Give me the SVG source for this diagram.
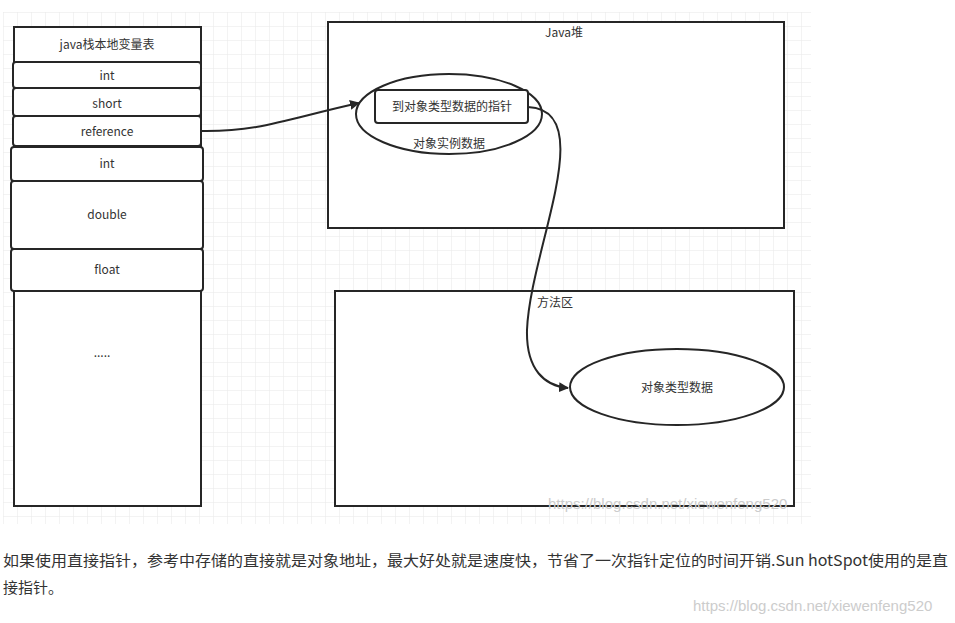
<svg xmlns="http://www.w3.org/2000/svg" width="955" height="623" viewBox="0 0 955 623">
<style>
.b{fill:#fff;stroke:#262626;stroke-width:2}
.t{font-family:"Noto Sans CJK SC","Liberation Sans",sans-serif;font-size:12px;fill:#333;text-anchor:middle}
.c{fill:none;stroke:#262626;stroke-width:2}
.p{font-family:"Noto Sans CJK SC","Liberation Sans",sans-serif;font-size:15px;fill:#333}
.w{font-family:"Liberation Sans",sans-serif;font-size:15px;fill:#ccc}
</style>
<defs>
<pattern id="g" width="14" height="14" patternUnits="userSpaceOnUse" x="3" y="12">
<path d="M0 0H14M0 0V14" stroke="#e8e8e8" stroke-width="1" fill="none"/>
</pattern>
<marker id="a" markerWidth="10" markerHeight="10" refX="9" refY="5" orient="auto" markerUnits="userSpaceOnUse">
<path d="M0,0 L10,5 L0,10 Z" fill="#262626"/>
</marker>
</defs>
<rect width="955" height="623" fill="#fff"/>
<rect x="3" y="12" width="808" height="512" fill="url(#g)"/>
<g id="stack">
<rect class="b" x="14" y="27" width="187" height="479"/>
<text class="t" x="107" y="49">java栈本地变量表</text>
</g>
<g id="s-int1"><rect class="b" x="13" y="62" width="188" height="26" rx="3"/><text class="t" x="107" y="80">int</text></g>
<g id="s-short"><rect class="b" x="13" y="88" width="188" height="28" rx="3"/><text class="t" x="107" y="108">short</text></g>
<g id="s-ref"><rect class="b" x="13" y="116" width="188" height="30" rx="3"/><text class="t" x="107" y="136">reference</text></g>
<g id="s-int2"><rect class="b" x="11" y="147" width="192" height="34" rx="3"/><text class="t" x="107" y="168">int</text></g>
<g id="s-double"><rect class="b" x="11" y="181" width="192" height="68" rx="3"/><text class="t" x="107" y="219">double</text></g>
<g id="s-float"><rect class="b" x="11" y="249" width="192" height="42" rx="3"/><text class="t" x="107" y="274">float</text></g>
<g id="s-more"><text class="t" x="102" y="357">.....</text></g>
<g id="heap"><rect class="b" x="328" y="22" width="456" height="206"/><text class="t" x="564" y="37">Java堆</text></g>
<g id="instance"><ellipse class="b" cx="449" cy="114" rx="93" ry="40"/><text class="t" x="449" y="148">对象实例数据</text></g>
<g id="pointer"><rect class="b" x="375" y="90" width="153" height="33" rx="3"/><text class="t" x="452" y="111">到对象类型数据的指针</text></g>
<g id="method"><rect class="b" x="335" y="291" width="459" height="215"/><text class="t" x="555" y="307">方法区</text></g>
<g id="typedata"><ellipse class="b" cx="677" cy="387" rx="107" ry="38"/><text class="t" x="677" y="392">对象类型数据</text></g>
<g id="connectors">
<path class="c" d="M201,131 C260,132 290,118 359,103" marker-end="url(#a)"/>
<path class="c" d="M528,107 C600,110 530,250 527,330 C526,370 545,386 568,388" marker-end="url(#a)"/>
</g>
<text class="w" x="548" y="509">https://blog.csdn.net/xiewenfeng520</text>
<text class="p" x="3" y="566" textLength="945" lengthAdjust="spacingAndGlyphs">如果使用直接指针，参考中存储的直接就是对象地址，最大好处就是速度快，节省了一次指针定位的时间开销.Sun hotSpot使用的是直</text>
<text class="p" x="3" y="593">接指针。</text>
<text class="w" x="693" y="611">https://blog.csdn.net/xiewenfeng520</text>
</svg>
